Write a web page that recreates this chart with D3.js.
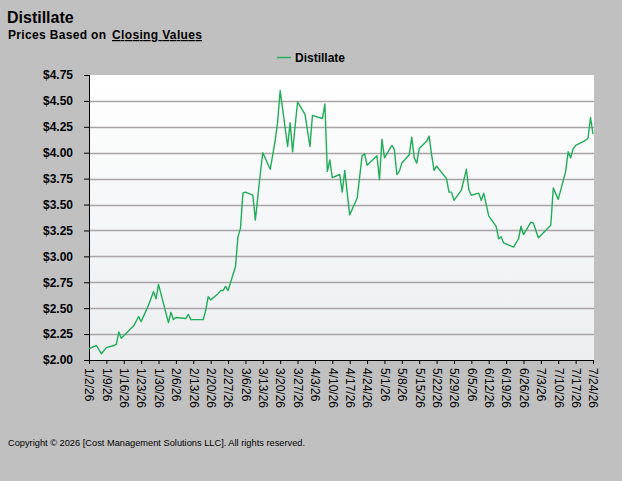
<!DOCTYPE html>
<html>
<head>
<meta charset="utf-8">
<script src="https://cdn.jsdelivr.net/npm/d3@7"></script>
<style>
html,body{margin:0;padding:0;background:#c0c0c0;}
svg{display:block;}
text{font-family:"Liberation Sans",Arial,sans-serif;}
</style>
</head>
<body>
<svg id="chart" width="622" height="481"></svg>
<script>
const titleText = "Distillate";
const subtitlePrefix = "Prices Based on";
const subtitleLink = "Closing Values";
const seriesName = "Distillate";
const copyrightText = "Copyright \u00A9 2026  [Cost Management Solutions LLC].  All rights reserved.";

const dates = ["2026-01-02","2026-01-05","2026-01-07","2026-01-09","2026-01-12","2026-01-13","2026-01-14","2026-01-15","2026-01-20","2026-01-22","2026-01-23","2026-01-26","2026-01-28","2026-01-29","2026-01-30","2026-02-03","2026-02-04","2026-02-05","2026-02-06","2026-02-10","2026-02-11","2026-02-12","2026-02-17","2026-02-18","2026-02-19","2026-02-20","2026-02-23","2026-02-24","2026-02-25","2026-02-26","2026-02-27","2026-03-02","2026-03-03","2026-03-04","2026-03-05","2026-03-06","2026-03-09","2026-03-10","2026-03-12","2026-03-13","2026-03-16","2026-03-18","2026-03-19","2026-03-20","2026-03-23","2026-03-24","2026-03-25","2026-03-27","2026-03-30","2026-04-01","2026-04-02","2026-04-06","2026-04-07","2026-04-08","2026-04-09","2026-04-10","2026-04-13","2026-04-14","2026-04-15","2026-04-17","2026-04-20","2026-04-22","2026-04-23","2026-04-24","2026-04-28","2026-04-29","2026-04-30","2026-05-01","2026-05-04","2026-05-05","2026-05-06","2026-05-07","2026-05-08","2026-05-11","2026-05-12","2026-05-13","2026-05-14","2026-05-15","2026-05-18","2026-05-19","2026-05-20","2026-05-21","2026-05-22","2026-05-26","2026-05-27","2026-05-28","2026-05-29","2026-06-01","2026-06-03","2026-06-04","2026-06-05","2026-06-08","2026-06-09","2026-06-10","2026-06-11","2026-06-12","2026-06-15","2026-06-16","2026-06-17","2026-06-18","2026-06-22","2026-06-24","2026-06-25","2026-06-26","2026-06-29","2026-06-30","2026-07-02","2026-07-07","2026-07-08","2026-07-10","2026-07-13","2026-07-14","2026-07-15","2026-07-16","2026-07-17","2026-07-21","2026-07-22","2026-07-23","2026-07-24"];
const values = [2.11,2.14,2.06,2.12,2.14,2.15,2.27,2.21,2.33,2.42,2.37,2.53,2.66,2.59,2.73,2.36,2.46,2.39,2.41,2.40,2.44,2.39,2.39,2.48,2.61,2.58,2.64,2.67,2.67,2.71,2.67,2.90,3.19,3.27,3.61,3.62,3.59,3.35,3.80,4.00,3.84,4.12,4.30,4.60,4.06,4.29,4.01,4.49,4.37,4.06,4.36,4.33,4.47,3.82,3.93,3.76,3.79,3.62,3.83,3.40,3.56,3.97,3.99,3.88,3.97,3.74,4.13,3.95,4.07,4.03,3.79,3.82,3.90,3.98,4.15,3.95,3.90,4.04,4.11,4.16,3.98,3.83,3.87,3.75,3.62,3.62,3.54,3.64,3.84,3.64,3.59,3.61,3.54,3.61,3.50,3.39,3.29,3.17,3.19,3.13,3.09,3.17,3.29,3.21,3.33,3.32,3.18,3.30,3.66,3.55,3.82,4.01,3.95,4.04,4.07,4.12,4.14,4.34,4.18];

const xTickDates = ["2026-01-02","2026-01-09","2026-01-16","2026-01-23","2026-01-30","2026-02-06","2026-02-13","2026-02-20","2026-02-27","2026-03-06","2026-03-13","2026-03-20","2026-03-27","2026-04-03","2026-04-10","2026-04-17","2026-04-24","2026-05-01","2026-05-08","2026-05-15","2026-05-22","2026-05-29","2026-06-05","2026-06-12","2026-06-19","2026-06-26","2026-07-03","2026-07-10","2026-07-17","2026-07-24"];
const xTickLabels = ["1/2/26","1/9/26","1/16/26","1/23/26","1/30/26","2/6/26","2/13/26","2/20/26","2/27/26","3/6/26","3/13/26","3/20/26","3/27/26","4/3/26","4/10/26","4/17/26","4/24/26","5/1/26","5/8/26","5/15/26","5/22/26","5/29/26","6/5/26","6/12/26","6/19/26","6/26/26","7/3/26","7/10/26","7/17/26","7/24/26"];
const yTicks = [2.00,2.25,2.50,2.75,3.00,3.25,3.50,3.75,4.00,4.25,4.50,4.75];

const parse = d3.timeParse("%Y-%m-%d");
const data = dates.map((d,i)=>({date:parse(d), value:values[i]}));
const tickDates = xTickDates.map(parse);

const svg = d3.select("#chart");
const plot = {left:89, right:594, top:75, bottom:360};

const x = d3.scaleTime().domain([tickDates[0], tickDates[tickDates.length-1]]).range([plot.left, 593]);
const y = d3.scaleLinear().domain([2.00, 4.75]).range([plot.bottom, plot.top]);

// background
svg.append("rect").attr("width",622).attr("height",481).attr("fill","#c0c0c0");

// gradient plot
const defs = svg.append("defs");
const grad = defs.append("linearGradient").attr("id","pg").attr("x1",0).attr("y1",0).attr("x2",0).attr("y2",1);
grad.append("stop").attr("offset","0%").attr("stop-color","#ffffff");
grad.append("stop").attr("offset","100%").attr("stop-color","#eceef0");
svg.append("rect").attr("x",plot.left).attr("y",plot.top)
  .attr("width",plot.right-plot.left).attr("height",plot.bottom-plot.top)
  .attr("fill","url(#pg)");

// gridlines
svg.append("g").selectAll("line").data(yTicks.filter(t=>t>2 && t<4.75)).join("line")
  .attr("x1",plot.left).attr("x2",plot.right)
  .attr("y1",d=>Math.round(y(d))+0.5).attr("y2",d=>Math.round(y(d))+0.5)
  .attr("stroke","#a8a4a8").attr("stroke-width",1.3);

// y axis
const yAxis = d3.axisLeft(y).tickValues(yTicks).tickSize(5).tickPadding(11)
  .tickFormat(d=>"$"+d.toFixed(2));
const gy = svg.append("g").attr("transform",`translate(${plot.left},0)`).call(yAxis);
gy.select(".domain").attr("stroke","#000").attr("d",`M0.5,${plot.top}V${plot.bottom}`);
gy.selectAll(".tick line").attr("stroke","#000");
gy.selectAll(".tick text").attr("font-size","12px").attr("font-weight","bold")
  .attr("fill","#000").attr("font-family","'Liberation Sans',Arial,sans-serif");

// x axis
const labelMap = new Map(xTickDates.map((d,i)=>[d, xTickLabels[i]]));
const xAxis = d3.axisBottom(x).tickValues(tickDates).tickSize(4)
  .tickFormat(d=>labelMap.get(d3.timeFormat("%Y-%m-%d")(d)));
const gx = svg.append("g").attr("transform",`translate(0,${plot.bottom})`).call(xAxis);
gx.select(".domain").attr("stroke","#000").attr("d",`M${plot.left},0.5H${plot.right}`);
gx.selectAll(".tick line").attr("stroke","#000");
gx.selectAll(".tick text").attr("font-size","12px").attr("fill","#000")
  .attr("font-family","'Liberation Sans',Arial,sans-serif")
  .attr("text-anchor","start").attr("transform","rotate(90)")
  .attr("x",8).attr("y",0).attr("dy","0.35em");

// line
const line = d3.line().x(d=>x(d.date)).y(d=>y(d.value));
svg.append("path").datum(data).attr("d",line)
  .attr("fill","none").attr("stroke","#1fae57").attr("stroke-width",1.4)
  .attr("stroke-linejoin","round");

// titles
svg.append("text").attr("x",7).attr("y",23).attr("font-size","16px").attr("font-weight","bold")
  .attr("fill","#000").text(titleText);
svg.append("text").attr("x",8).attr("y",39).attr("font-size","12px").attr("font-weight","bold")
  .attr("fill","#000").attr("textLength",98).attr("lengthAdjust","spacing").text(subtitlePrefix);
svg.append("text").attr("x",112).attr("y",39).attr("font-size","12px").attr("font-weight","bold")
  .attr("fill","#000").attr("text-decoration","underline").attr("textLength",90).attr("lengthAdjust","spacing").text(subtitleLink);

// legend
svg.append("line").attr("x1",277).attr("x2",291).attr("y1",57.5).attr("y2",57.5)
  .attr("stroke","#1fae57").attr("stroke-width",1.4);
svg.append("text").attr("x",295).attr("y",62).attr("font-size","12px").attr("font-weight","bold")
  .attr("fill","#000").text(seriesName);

// copyright
svg.append("text").attr("x",8).attr("y",446).attr("font-size","9.5px")
  .attr("fill","#000").attr("textLength",297).attr("lengthAdjust","spacingAndGlyphs").text(copyrightText);
</script>
</body>
</html>
